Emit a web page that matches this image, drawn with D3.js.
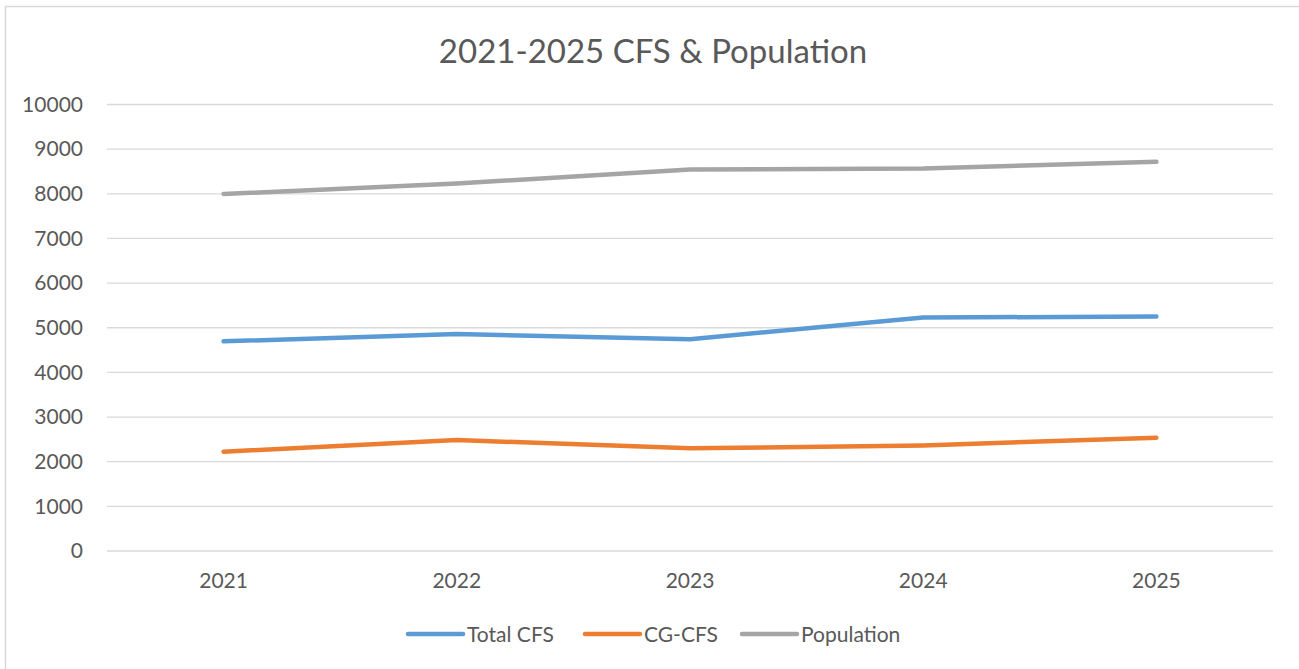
<!DOCTYPE html>
<html>
<head>
<meta charset="utf-8">
<script src="https://cdn.jsdelivr.net/npm/d3@7"></script>
<style>
  html, body { margin: 0; padding: 0; background: #fff; }
  svg { display: block; }
  text { font-family: Lato, "Open Sans", sans-serif; fill: #595959; }
</style>
</head>
<body>
<svg id="chart" width="1299" height="669"></svg>
<script>
// chart data
const years = ["2021", "2022", "2023", "2024", "2025"];
const totalCfs = [4695, 4858, 4745, 5230, 5250];
const cgCfs = [2224, 2485, 2299, 2365, 2537];
const population = [7995, 8230, 8542, 8567, 8716];
const yTicks = [0, 1000, 2000, 3000, 4000, 5000, 6000, 7000, 8000, 9000, 10000];

const seriesNames = ["Total CFS", "CG-CFS", "Population"];
const seriesColors = ["#5b9bd5", "#ed7d31", "#a5a5a5"];
const seriesValues = [totalCfs, cgCfs, population];

const svg = d3.select("#chart");

// outer chart border (right and bottom run off the page)
svg.append("rect")
    .attr("x", 5.5).attr("y", 6.5)
    .attr("width", 1400).attr("height", 800)
    .attr("fill", "none")
    .attr("stroke", "#d9d9d9")
    .attr("stroke-width", 1.5);

const plot = { left: 107, right: 1273, top: 104.5, bottom: 551 };

const x = d3.scaleBand()
    .domain(years)
    .range([plot.left, plot.right]);

const y = d3.scaleLinear()
    .domain([0, 10000])
    .range([plot.bottom, plot.top]);

// title
svg.append("text")
    .attr("x", 653).attr("y", 63)
    .attr("text-anchor", "middle")
    .style("font-size", "33px")
    .text("2021-2025 CFS & Population");

// gridlines
svg.append("g")
    .selectAll("line")
    .data(yTicks)
    .join("line")
    .attr("x1", plot.left).attr("x2", plot.right)
    .attr("y1", d => y(d)).attr("y2", d => y(d))
    .attr("stroke", "#d9d9d9")
    .attr("stroke-width", 1.3);

// y axis labels
const yAxis = svg.append("g")
    .attr("transform", `translate(${plot.left},0)`)
    .call(d3.axisLeft(y).tickValues(yTicks).tickSize(0).tickPadding(24).tickFormat(d3.format("d")));
yAxis.select(".domain").remove();
yAxis.selectAll("text")
    .style("font-size", "21px")
    .style("font-family", "Lato, 'Open Sans', sans-serif")
    .attr("fill", "#595959");

// x axis labels
const xAxis = svg.append("g")
    .attr("transform", `translate(0,${plot.bottom})`)
    .call(d3.axisBottom(x).tickSize(0).tickPadding(22));
xAxis.select(".domain").remove();
xAxis.selectAll("text")
    .style("font-size", "21px")
    .style("font-family", "Lato, 'Open Sans', sans-serif")
    .attr("fill", "#595959");

const cx = d => x(d) + x.bandwidth() / 2;

const line = d3.line()
    .x((d, i) => cx(years[i]))
    .y(d => y(d));

svg.append("g")
    .selectAll("path")
    .data(seriesValues)
    .join("path")
    .attr("d", d => line(d))
    .attr("fill", "none")
    .attr("stroke", (d, i) => seriesColors[i])
    .attr("stroke-width", 4.5)
    .attr("stroke-linecap", "round")
    .attr("stroke-linejoin", "round");

// legend
const legendX = [408, 585, 742];
const legend = svg.append("g")
    .selectAll("g")
    .data(seriesNames)
    .join("g")
    .attr("transform", (d, i) => `translate(${legendX[i]},634)`);

legend.append("line")
    .attr("x1", 0).attr("x2", 55)
    .attr("stroke", (d, i) => seriesColors[i])
    .attr("stroke-width", 4.5)
    .attr("stroke-linecap", "round");

legend.append("text")
    .attr("x", 59).attr("y", 7.5)
    .style("font-size", "21px")
    .text(d => d);
</script>
</body>
</html>
